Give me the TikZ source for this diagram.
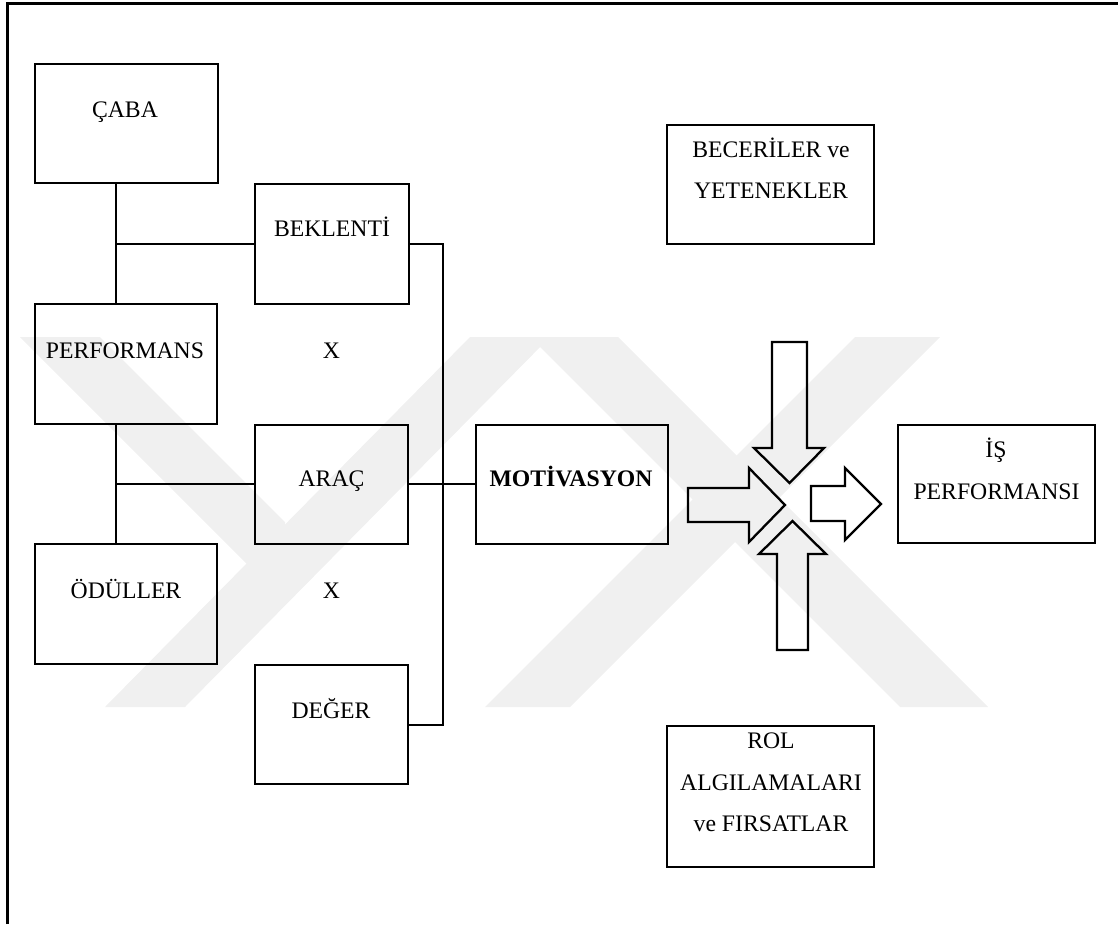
\documentclass[tikz,border=0pt]{standalone}
\usepackage{fontspec}
\setmainfont{Liberation Serif}
\begin{document}
\begin{tikzpicture}[x=1pt,y=-1pt,
  box/.style={draw, line width=2.8pt, inner sep=0pt, outer sep=0pt, anchor=north west},
  lbl/.style={font=\fontsize{23.7}{28}\selectfont, anchor=base, inner sep=0pt},
  conn/.style={line width=2pt},
  bigarrow/.style={draw, line width=2.3pt, line join=miter},
  wmark/.style={fill=black!6, draw=none},
  framel/.style={line width=3.2pt}]
\useasboundingbox (0,0) rectangle (1118,924);
% faint watermark
\fill[wmark] (20,337) -- (100,337) -- (285,522) -- (285,602) -- cycle;
\fill[wmark] (470,337) -- (550,337) -- (185,707) -- (105,707) -- cycle;
\fill[wmark] (530,337) -- (618,337) -- (988,707) -- (900,707) -- cycle;
\fill[wmark] (855,337) -- (940,337) -- (570,707) -- (485,707) -- cycle;
% outer frame
\draw[framel] (7.5,924) -- (7.5,3.2) -- (1118,3.2);
% boxes
\node[box, minimum width=183pt, minimum height=119pt] (caba) at (35,64) {};
\node[box, minimum width=154pt, minimum height=120pt] (bek) at (255,184) {};
\node[box, minimum width=182pt, minimum height=120pt] (perf) at (35,304) {};
\node[box, minimum width=153pt, minimum height=119pt] (arac) at (255,425) {};
\node[box, minimum width=182pt, minimum height=120pt] (odul) at (35,544) {};
\node[box, minimum width=153pt, minimum height=119pt] (deg) at (255,665) {};
\node[box, minimum width=192pt, minimum height=119pt] (mot) at (476,425) {};
\node[box, minimum width=207pt, minimum height=119pt] (bec) at (667,125) {};
\node[box, minimum width=197pt, minimum height=118pt] (isp) at (898,425) {};
\node[box, minimum width=207pt, minimum height=141pt] (rol) at (667,726) {};
% labels
\node[lbl] (caba-t) at (125,117.8) {ÇABA};
\node[lbl] (bek-t) at (332,236.8) {BEKLENTİ};
\node[lbl] (perf-t) at (125,358.3) {PERFORMANS};
\node[lbl] (x1) at (331.5,358.3) {X};
\node[lbl] (arac-t) at (331.5,486.5) {ARAÇ};
\node[lbl, font=\fontsize{23.7}{28}\selectfont\bfseries] (mot-t) at (571,486.5) {MOTİVASYON};
\node[lbl] (odul-t) at (126,598.3) {ÖDÜLLER};
\node[lbl] (x2) at (331.5,598.3) {X};
\node[lbl] (deg-t) at (331,718.3) {DEĞER};
\node[lbl] (bec-t1) at (771,157.3) {BECERİLER ve};
\node[lbl] (bec-t2) at (771,198.3) {YETENEKLER};
\node[lbl] (isp-t1) at (996,457) {İŞ};
\node[lbl] (isp-t2) at (996.5,499) {PERFORMANSI};
\node[lbl] (rol-t1) at (771,748.3) {ROL};
\node[lbl] (rol-t2) at (771,790) {ALGILAMALARI};
\node[lbl] (rol-t3) at (771,831) {ve FIRSATLAR};
% connectors
\coordinate (j1) at (116,244);
\coordinate (j2) at (116,484);
\coordinate (busT) at (443,244);
\coordinate (busB) at (443,725);
\draw[conn] (caba.south -| j1) -- (perf.north -| j1);
\draw[conn] (j1) -- (bek.west |- j1);
\draw[conn] (perf.south -| j2) -- (odul.north -| j2);
\draw[conn] (j2) -- (arac.west |- j2);
\draw[conn] (bek.east |- busT) -- (busT) -- (busB) -- (deg.east |- busB);
\draw[conn] (arac.east |- j2) -- (mot.west |- j2);
% block arrows
\draw[bigarrow] (772,342) -- (807,342) -- (807,448) -- (824,448) -- (789.5,483) -- (754,448) -- (772,448) -- cycle;
\draw[bigarrow] (688,488) -- (749,488) -- (749,468) -- (785,505) -- (749,542) -- (749,522) -- (688,522) -- cycle;
\draw[bigarrow] (777,650) -- (777,554) -- (759,554) -- (792.5,521) -- (826,554) -- (808,554) -- (808,650) -- cycle;
\draw[bigarrow] (811,486) -- (845,486) -- (845,468) -- (881,504) -- (845,540) -- (845,521) -- (811,521) -- cycle;
\end{tikzpicture}
\end{document}
